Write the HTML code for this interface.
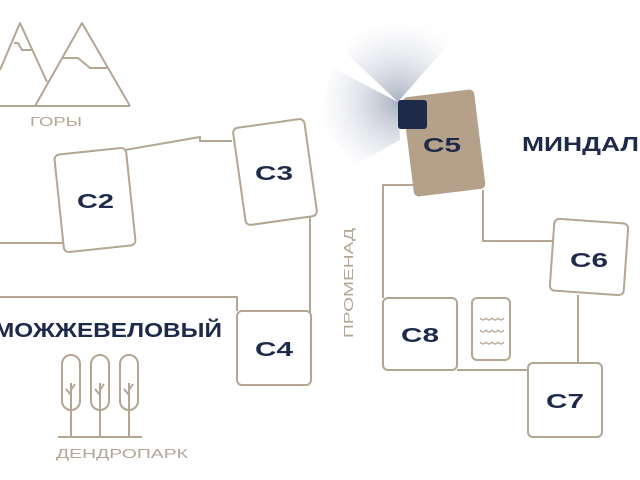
<!DOCTYPE html>
<html><head><meta charset="utf-8"><style>
html,body{margin:0;padding:0;background:#fff;width:640px;height:480px;overflow:hidden}
svg text{font-family:"Liberation Sans",sans-serif}
</style></head><body>
<svg width="640" height="480" viewBox="0 0 640 480" xmlns="http://www.w3.org/2000/svg">
<defs>
<radialGradient id="g" cx="398" cy="102" r="85" gradientUnits="userSpaceOnUse">
<stop offset="0" stop-color="#8e97ae" stop-opacity="0.75"/>
<stop offset="0.6" stop-color="#c9cdd9" stop-opacity="0.35"/>
<stop offset="1" stop-color="#eef0f4" stop-opacity="0"/>
</radialGradient>
</defs>
<g fill="url(#g)">
<polygon points="398,102 345,52 370,15 450,15 452,40"/>
<polygon points="398,102 333,68 318,120 355,165 400,140"/>
</g>
<g fill="none" stroke="#b5a593" stroke-width="2" stroke-linejoin="round">
<polyline points="0,70 20,23 47,82"/>
<line x1="0" y1="106" x2="130" y2="106"/>
<polyline points="35,106 82,23 130,106"/>
<polyline points="14,43 18,43 22,50 32,50"/>
<polyline points="62,58 78,58 90,68 107,68"/>
<polyline points="125,150 200,137 200,141 232,141"/>
<line x1="0" y1="243" x2="63" y2="243"/>
<line x1="310" y1="215" x2="310" y2="312"/>
<polyline points="0,297 237,297 237,311"/>
<polyline points="483,190 483,241 553,241"/>
<polyline points="414,185 383,185 383,298"/>
<line x1="457" y1="370" x2="528" y2="370"/>
<line x1="578" y1="295" x2="578" y2="363"/>
<rect x="59" y="151" width="72" height="98" rx="5" transform="rotate(-6 95 200)" fill="#fff"/>
<rect x="239" y="123" width="72" height="98" rx="5" transform="rotate(-8 275 172)" fill="#fff"/>
<rect x="237" y="311" width="74" height="74" rx="5" fill="#fff"/>
<rect x="552" y="221" width="74" height="72" rx="5" transform="rotate(4 589 257)" fill="#fff"/>
<rect x="383" y="298" width="74" height="72" rx="5" fill="#fff"/>
<rect x="472" y="298" width="38" height="62" rx="5"/>
<rect x="528" y="363" width="74" height="74" rx="5" fill="#fff"/>
<path d="M480,318 q3,4 6,0 q3,4 6,0 q3,4 6,0 q3,4 6,0 M480,330 q3,4 6,0 q3,4 6,0 q3,4 6,0 q3,4 6,0 M480,342 q3,4 6,0 q3,4 6,0 q3,4 6,0 q3,4 6,0" stroke-width="1.2"/>
<rect x="62" y="355" width="18" height="55" rx="9"/>
<rect x="91" y="355" width="18" height="55" rx="9"/>
<rect x="120" y="355" width="18" height="55" rx="9"/>
<path d="M71,437 V383 M71,395 l-5,-6 M71,390 l4,-6 M100,437 V383 M100,395 l-5,-6 M100,390 l4,-6 M129,437 V383 M129,395 l-5,-6 M129,390 l4,-6"/>
<line x1="58" y1="437" x2="142" y2="437"/>
</g>
<rect x="408" y="93" width="72" height="100" rx="5" transform="rotate(-7 444 143)" fill="#b5a18a"/>
<rect x="398" y="100" width="29" height="29" rx="3" fill="#1d2a4a"/>
<g fill="#1d2a4a" font-weight="bold" font-size="20" lengthAdjust="spacingAndGlyphs">
<text x="77" y="208" textLength="37" lengthAdjust="spacingAndGlyphs">C2</text>
<text x="255" y="180" textLength="38" lengthAdjust="spacingAndGlyphs">C3</text>
<text x="255" y="356" textLength="38" lengthAdjust="spacingAndGlyphs">C4</text>
<text x="423" y="152" textLength="38" lengthAdjust="spacingAndGlyphs">C5</text>
<text x="570" y="267" textLength="38" lengthAdjust="spacingAndGlyphs">C6</text>
<text x="401" y="342" textLength="38" lengthAdjust="spacingAndGlyphs">C8</text>
<text x="546" y="408" textLength="38" lengthAdjust="spacingAndGlyphs">C7</text>
<text x="-6" y="337" textLength="228" lengthAdjust="spacingAndGlyphs">МОЖЖЕВЕЛОВЫЙ</text>
<text x="522" y="151" textLength="117" lengthAdjust="spacingAndGlyphs">МИНДАЛ</text>
</g>
<g fill="#b5a593" font-size="13">
<text x="30" y="126" textLength="52" lengthAdjust="spacingAndGlyphs">ГОРЫ</text>
<text x="56" y="458" textLength="132" lengthAdjust="spacingAndGlyphs">ДЕНДРОПАРК</text>
<text x="0" y="0" transform="translate(353,338) rotate(-90)" textLength="110" lengthAdjust="spacingAndGlyphs">ПРОМЕНАД</text>
</g>
</svg>
</body></html>
